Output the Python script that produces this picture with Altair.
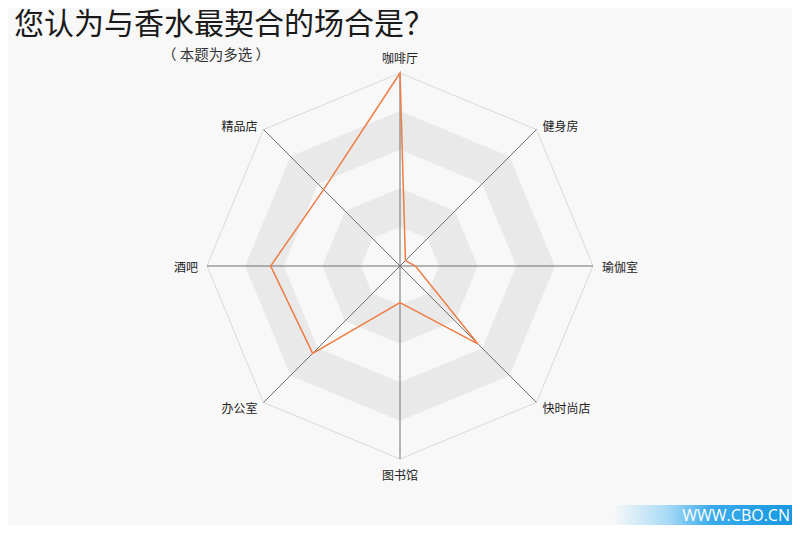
import pandas as pd
import altair as alt

# data (radar max = 100)
categories = ['咖啡厅', '健身房', '瑜伽室', '快时尚店', '图书馆', '办公室', '酒吧', '精品店']
values = [100, 4, 8, 57, 19, 64, 67, 56]
levels = [100, 80, 60, 40, 20]
title_text = ['您认为与香水最契合的场合是？']
subtitle_text = ['（ 本题为多选 ）']
site_text = ['WWW.CBO.CN']

W, H = 784, 517
PX = 1.93  # pixels per value unit
FONT = 'Noto Sans CJK SC'

xs = alt.Scale(domain=[-392 / PX, 392 / PX], nice=False, zero=False)
ys = alt.Scale(domain=[-259 / PX, 258 / PX], nice=False, zero=False)

idx = list(range(len(categories)))
series = pd.DataFrame({'cat': categories, 'r': values, 'idx': idx})
rings = pd.DataFrame([{'level': l, 'r': l, 'idx': i} for l in levels for i in idx])
spokes = pd.DataFrame({'cat': categories, 'r': [max(levels)] * len(categories), 'idx': idx})


def polar(chart):
    return chart.transform_calculate(
        ang='datum.idx * PI / 4',
        cx='datum.r * sin(datum.ang)',
        cy='datum.r * cos(datum.ang)',
    )


def xy():
    return dict(
        x=alt.X('cx:Q', scale=xs, axis=None),
        y=alt.Y('cy:Q', scale=ys, axis=None),
    )


# alternating grey bands, biggest octagon first
band_layers = []
for n, lv in enumerate(levels):
    fill = '#f8f8f8' if n % 2 == 0 else '#e9e9e9'
    stroke = '#d9d9d9' if n == 0 else fill
    band = polar(alt.Chart(rings)).transform_filter(f'datum.level == {lv}').mark_line(
        interpolate='linear-closed', fill=fill, stroke=stroke, strokeWidth=1
    ).encode(order='idx:Q', **xy())
    band_layers.append(band)

spoke_layer = polar(alt.Chart(spokes)).transform_calculate(zero='0').mark_rule(
    color='#707070', strokeWidth=1
).encode(
    x=alt.X('zero:Q', scale=xs, axis=None),
    y=alt.Y('zero:Q', scale=ys, axis=None),
    x2='cx:Q',
    y2='cy:Q',
)

line_layer = polar(alt.Chart(series)).mark_line(
    interpolate='linear-closed', color='#ef7d45', strokeWidth=1.5
).encode(order='idx:Q', **xy())


def label_layer(which, align, dx, dy):
    cond = ' || '.join(f'datum.idx == {i}' for i in which)
    return polar(alt.Chart(spokes)).transform_filter(cond).mark_text(
        align=align, baseline='middle', dx=dx, dy=dy, font=FONT, fontSize=12, color='#222222'
    ).encode(text='cat:N', **xy())


labels = [
    label_layer([0], 'center', 0, -14),
    label_layer([4], 'center', 0, 17),
    label_layer([2], 'left', 9, 2),
    label_layer([6], 'right', -9, 2),
    label_layer([1], 'left', 6, -3),
    label_layer([3], 'left', 6, 7),
    label_layer([5], 'right', -6, 7),
    label_layer([7], 'right', -6, -3),
]

title = alt.Chart(pd.DataFrame({'t': title_text})).mark_text(
    align='left', baseline='top', font=FONT, fontSize=30, color='#1a1a1a'
).encode(x=alt.value(6), y=alt.value(2), text='t:N')

subtitle = alt.Chart(pd.DataFrame({'t': subtitle_text})).mark_text(
    align='center', baseline='middle', font=FONT, fontSize=14.5, color='#333333'
).encode(x=alt.value(208), y=alt.value(48), text='t:N')

badge = alt.Chart(pd.DataFrame({'t': site_text})).mark_rect(
    color=alt.Gradient(
        gradient='linear', x1=0, y1=0, x2=1, y2=0,
        stops=[
            alt.GradientStop(color='#f8f8f8', offset=0),
            alt.GradientStop(color='#a9dbf6', offset=0.3),
            alt.GradientStop(color='#3aabeb', offset=0.55),
            alt.GradientStop(color='#1798e2', offset=1),
        ],
    )
).encode(x=alt.value(605), x2=alt.value(W), y=alt.value(497), y2=alt.value(H))

badge_text = alt.Chart(pd.DataFrame({'t': site_text})).mark_text(
    align='right', baseline='middle', font='Open Sans', fontSize=16, color='white'
).encode(x=alt.value(W - 2), y=alt.value(508), text='t:N')

chart = alt.layer(
    *band_layers, spoke_layer, line_layer, *labels, title, subtitle, badge, badge_text
).properties(
    width=W, height=H, background='#f8f8f8', padding=0, autosize='none'
).configure_view(stroke=None)

chart.save('out.html', embed_options={'renderer': 'svg', 'actions': False})
